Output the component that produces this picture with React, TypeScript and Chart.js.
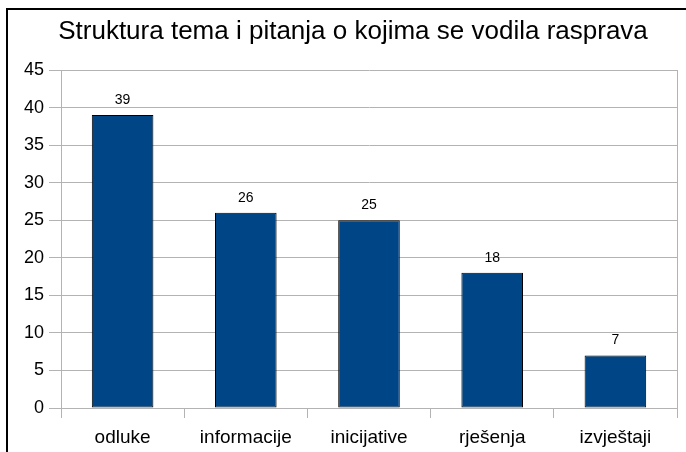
import React, { useEffect, useRef } from "react";
import { Chart, registerables } from "chart.js";

Chart.register(...registerables);

const categories = ["odluke", "informacije", "inicijative", "rješenja", "izvještaji"];
const values = [39, 26, 25, 18, 7];
const titleText = "Struktura tema i pitanja o kojima se vodila rasprava";
const yMax = 45;
const yStep = 5;

const FONT = "'Liberation Sans', Arial, sans-serif";

const valueLabels = {
  id: "valueLabels",
  afterDatasetsDraw(chart: any) {
    const ctx = chart.ctx;
    const meta = chart.getDatasetMeta(0);
    ctx.save();
    ctx.font = `14px ${FONT}`;
    ctx.fillStyle = "#000";
    ctx.textAlign = "center";
    ctx.textBaseline = "middle";
    meta.data.forEach((bar: any, i: number) => {
      ctx.fillText(String(values[i]), bar.x, bar.y - 15);
    });
    ctx.restore();
  },
};

const titlePlugin = {
  id: "customTitle",
  afterDraw(chart: any) {
    const ctx = chart.ctx;
    ctx.save();
    ctx.font = `26px ${FONT}`;
    ctx.fillStyle = "#000";
    ctx.textAlign = "center";
    ctx.textBaseline = "middle";
    ctx.fillText(titleText, 353, 31.6);
    ctx.restore();
  },
};

const rightBorder = {
  id: "rightBorder",
  afterDraw(chart: any) {
    const { ctx, chartArea } = chart;
    ctx.save();
    ctx.strokeStyle = "#b3b3b3";
    ctx.lineWidth = 1;
    ctx.beginPath();
    ctx.moveTo(Math.round(chartArea.right) + 0.5, chartArea.top);
    ctx.lineTo(Math.round(chartArea.right) + 0.5, chartArea.bottom);
    ctx.stroke();
    ctx.restore();
  },
};

export default function App() {
  const ref = useRef<HTMLCanvasElement>(null);
  useEffect(() => {
    if (!ref.current) return;
    const chart = new Chart(ref.current, {
      type: "bar",
      data: {
        labels: categories,
        datasets: [
          {
            data: values,
            backgroundColor: "#004586",
            borderColor: "#000",
            borderWidth: 1,
            borderSkipped: false,
            categoryPercentage: 1,
            barPercentage: 0.5,
          },
        ],
      },
      options: {
        animation: false,
        responsive: false,
        maintainAspectRatio: false,
        layout: { padding: { left: 0, right: 9, top: 70, bottom: 0 } },
        plugins: {
          legend: { display: false },
          tooltip: { enabled: false },
          title: { display: false },
        },
        scales: {
          x: {
            grid: {
              drawOnChartArea: false,
              drawTicks: true,
              tickLength: 10,
              color: "#b3b3b3",
              offset: true,
            },
            border: { color: "#b3b3b3" },
            ticks: {
              color: "#000",
              font: { family: FONT, size: 19 },
              padding: 8,
            },
            afterFit(scale: any) {
              scale.height = 44;
            },
          },
          y: {
            min: 0,
            max: yMax,
            ticks: {
              stepSize: yStep,
              color: "#000",
              font: { family: FONT, size: 18 },
              padding: 5,
            },
            grid: { color: "#b3b3b3", tickLength: 12 },
            border: { color: "#b3b3b3" },
            afterFit(scale: any) {
              scale.width = 61;
            },
          },
        },
      },
      plugins: [valueLabels, rightBorder, titlePlugin],
    });
    return () => chart.destroy();
  }, []);
  return (
    <div style={{ position: "fixed", left: 0, top: 0, width: 686, height: 452, background: "#fff", overflow: "hidden" }}>
      <div style={{ position: "absolute", left: 6, top: 8, right: -2, bottom: -2, borderLeft: "2px solid #000", borderTop: "2px solid #000" }} />
      <canvas ref={ref} width={686} height={452} style={{ position: "absolute", left: 0, top: 0 }} />
    </div>
  );
}
